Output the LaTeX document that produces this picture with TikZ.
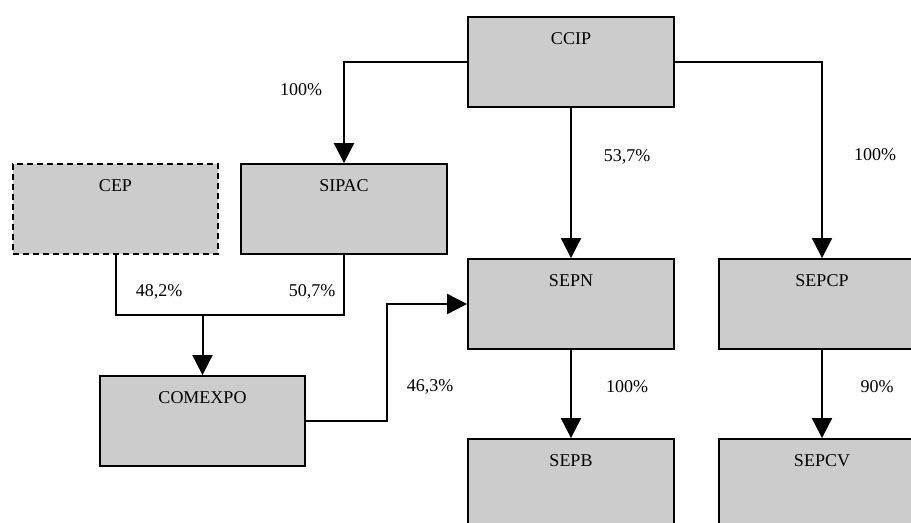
\documentclass[tikz,border=0pt]{standalone}
\usepackage{fontspec}
\setmainfont{Liberation Serif}
\usetikzlibrary{arrows.meta}
\tikzset{>={Triangle[length=10pt,width=10pt]}}
\colorlet{boxgray}{black!20}
\tikzset{
  entity/.style={draw, line width=0.9pt, fill=boxgray, minimum width=103pt, inner sep=0pt,
    text height=14pt, text depth=31pt, font=\fontsize{9}{11}\selectfont},
  share/.style={font=\fontsize{9}{11}\selectfont},
  link/.style={->, line width=1pt},
}

\begin{document}
\begin{tikzpicture}[x=0.5pt,y=-0.5pt]
  \clip (0,0) rectangle (911,523);
  % companies
  \node[entity] (ccip) at (571,62) {CCIP};
  \node[entity, dashed, dash pattern=on 3pt off 2pt, minimum width=102.5pt] (cep) at (115.5,209) {CEP};
  \node[entity] (sipac) at (344,209) {SIPAC};
  \node[entity] (sepn) at (571,304) {SEPN};
  \node[entity] (sepcp) at (822,304) {SEPCP};
  \node[entity, minimum width=102.5pt] (comexpo) at (202.5,421) {COMEXPO};
  \node[entity] (sepb) at (571,484) {SEPB};
  \node[entity] (sepcv) at (822,484) {SEPCV};
  % joints
  \coordinate (merge) at (202.5,315);
  \coordinate (kink) at (387,421);
  % holdings
  \draw[link] (ccip.west) -| (sipac.north);
  \draw[link] (ccip.south) -- (sepn.north);
  \draw[link] (ccip.east) -| (sepcp.north);
  \draw[line width=1pt] (cep.south) |- (merge) -| (sipac.south);
  \draw[link] (merge) -- (comexpo.north);
  \draw[link] (comexpo.east) -- (kink) |- (sepn.west);
  \draw[link] (sepn.south) -- (sepb.north);
  \draw[link] (sepcp.south) -- (sepcv.north);
  % shares
  \node[share] (s1) at (301,90) {100\%};
  \node[share] (s2) at (627,157) {53,7\%};
  \node[share] (s3) at (875,155) {100\%};
  \node[share] (s4) at (159,292) {48,2\%};
  \node[share] (s5) at (312,292) {50,7\%};
  \node[share] (s6) at (430,387) {46,3\%};
  \node[share] (s7) at (627,387) {100\%};
  \node[share] (s8) at (877,387) {90\%};
\end{tikzpicture}
\end{document}
